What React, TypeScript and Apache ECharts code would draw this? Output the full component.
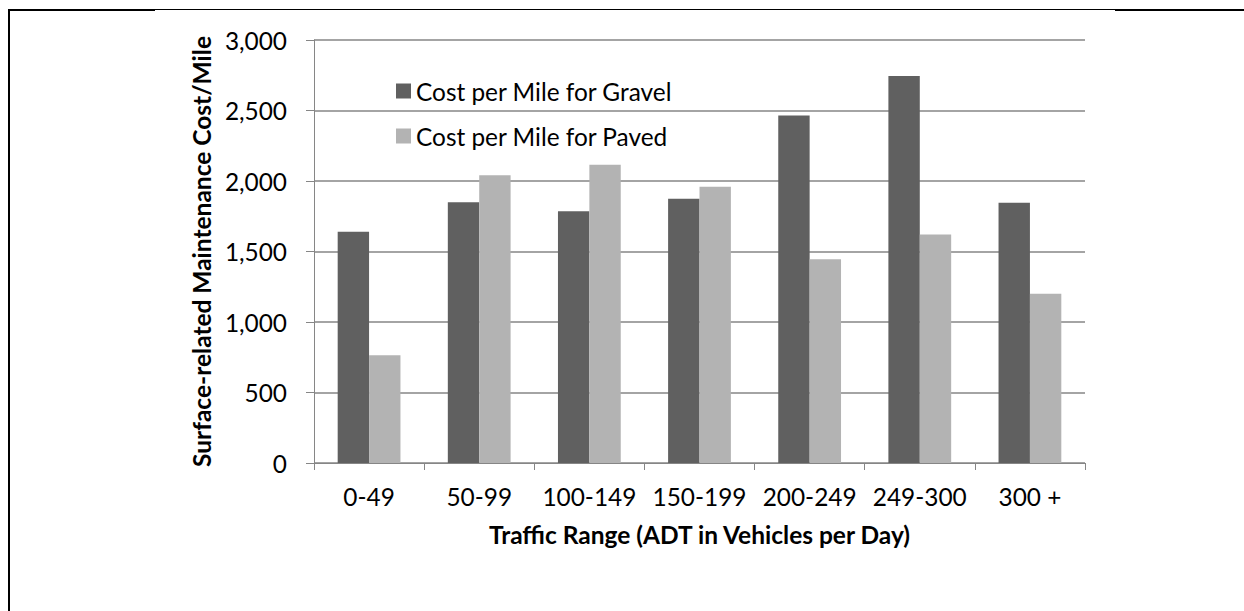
import React, { useEffect, useRef } from "react";
import * as echarts from "echarts";

const categories = ["0-49", "50-99", "100-149", "150-199", "200-249", "249-300", "300 +"];
const gravelCost = [1640, 1850, 1785, 1875, 2465, 2745, 1845];
const pavedCost = [765, 2040, 2115, 1960, 1445, 1620, 1200];
const seriesNames = ["Cost per Mile for Gravel", "Cost per Mile for Paved"];
const yTitle = "Surface-related Maintenance Cost/Mile";
const xTitle = "Traffic Range (ADT in Vehicles per Day)";

const FONT = "Lato, 'Open Sans', sans-serif";
const GRID_COLOR = "#868686";
const FS = 24.4;

export default function App() {
  const ref = useRef<HTMLDivElement>(null);
  useEffect(() => {
    if (!ref.current) return;
    const chart = echarts.init(ref.current, undefined, { renderer: "svg" });
    chart.setOption({
      animation: false,
      backgroundColor: "#ffffff",
      textStyle: { fontFamily: FONT },
      grid: { left: 314, right: 159, top: 40, bottom: 148, containLabel: false },
      legend: {
        orient: "vertical",
        left: 391,
        top: 74,
        itemWidth: 15,
        itemHeight: 15,
        itemGap: 21,
        icon: "rect",
        data: seriesNames,
        textStyle: { fontFamily: FONT, fontSize: FS, color: "#000", lineHeight: 24 },
      },
      xAxis: {
        type: "category",
        data: categories,
        boundaryGap: true,
        axisLine: { show: true, lineStyle: { color: GRID_COLOR, width: 1 } },
        axisTick: { show: true, alignWithLabel: false, length: 7, lineStyle: { color: GRID_COLOR } },
        axisLabel: { color: "#000", fontSize: FS, fontFamily: FONT, margin: 21, interval: 0 },
        name: xTitle,
        nameLocation: "middle",
        nameGap: 59,
        nameTextStyle: { color: "#000", fontSize: 24.5, fontWeight: "bold", fontFamily: FONT },
      },
      yAxis: {
        type: "value",
        min: 0,
        max: 3000,
        interval: 500,
        axisLine: { show: true, lineStyle: { color: GRID_COLOR, width: 1 } },
        axisTick: { show: true, inside: false, length: 8, lineStyle: { color: GRID_COLOR } },
        axisLabel: { color: "#000", fontSize: FS, fontFamily: FONT, margin: 27 },
        splitLine: { show: true, lineStyle: { color: GRID_COLOR, width: 1.5 } },
        name: yTitle,
        nameLocation: "middle",
        nameGap: 94,
        nameRotate: 90,
        nameTextStyle: { color: "#000", fontSize: 24.5, fontWeight: "bold", fontFamily: FONT },
      },
      series: [
        {
          name: seriesNames[0],
          type: "bar",
          data: gravelCost,
          barGap: "0%",
          barCategoryGap: "43%",
          itemStyle: { color: "#606060" },
        },
        {
          name: seriesNames[1],
          type: "bar",
          data: pavedCost,
          barGap: "0%",
          barCategoryGap: "43%",
          itemStyle: { color: "#b3b3b3" },
        },
      ],
      graphic: [
        { type: "line", shape: { x1: 9, y1: 9, x2: 9, y2: 611 }, style: { stroke: "#000", lineWidth: 2 } },
        { type: "line", shape: { x1: 8, y1: 10, x2: 155, y2: 10 }, style: { stroke: "#000", lineWidth: 2 } },
        { type: "line", shape: { x1: 155, y1: 9.5, x2: 1115, y2: 9.5 }, style: { stroke: "#000", lineWidth: 1 } },
        { type: "line", shape: { x1: 1115, y1: 10, x2: 1244, y2: 10 }, style: { stroke: "#000", lineWidth: 2 } },
      ],
    });
    return () => chart.dispose();
  }, []);
  return (
    <div
      ref={ref}
      style={{ position: "fixed", left: 0, top: 0, width: 1244, height: 611, background: "#fff" }}
    />
  );
}
